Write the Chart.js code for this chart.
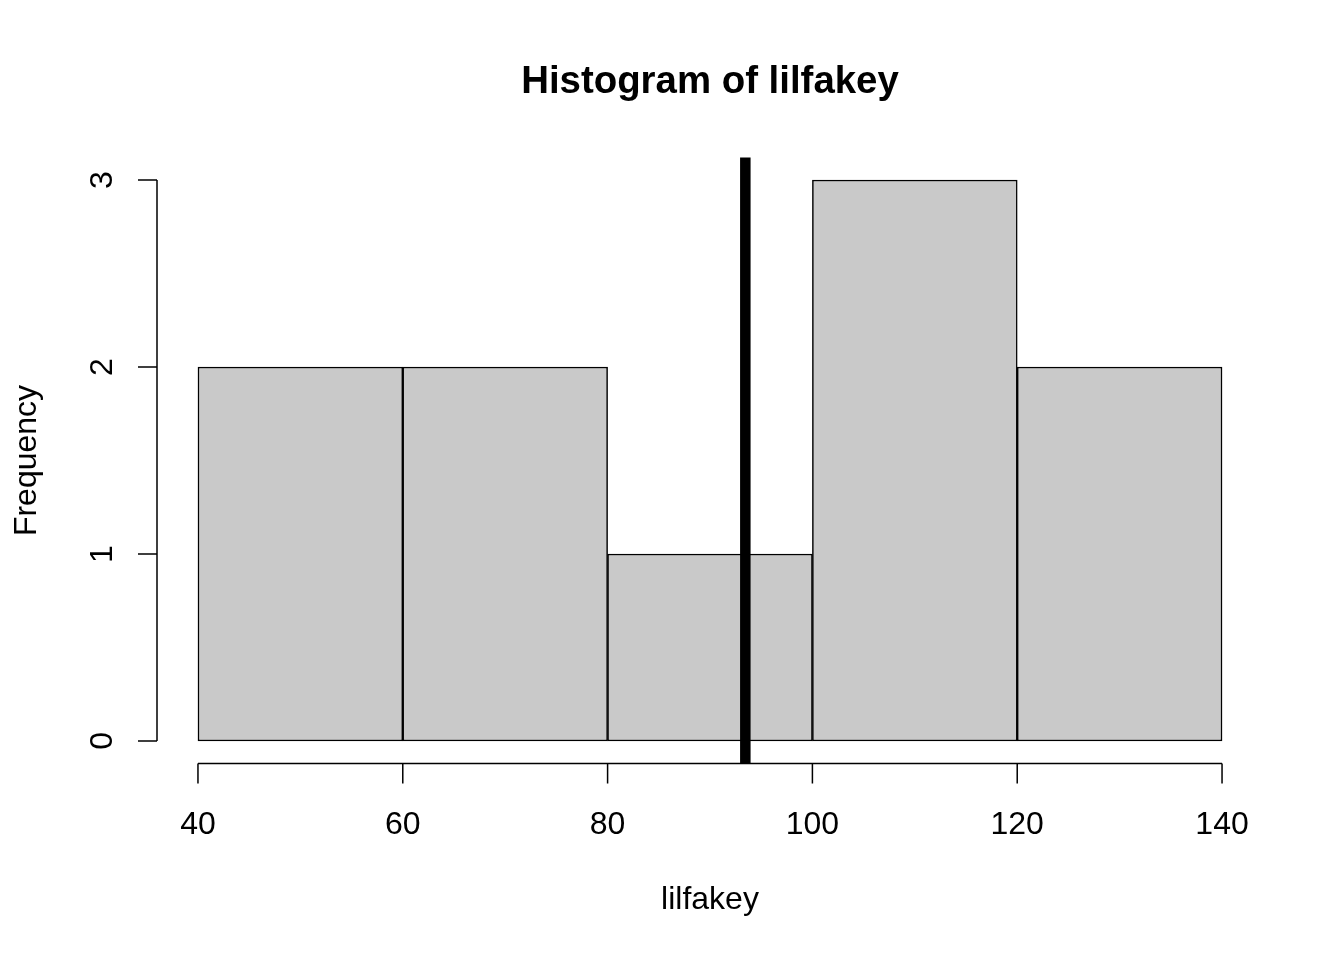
<!DOCTYPE html>
<html>
<head>
<meta charset="utf-8">
<script src="https://cdn.jsdelivr.net/npm/chart.js@4/dist/chart.umd.min.js"></script>
<style>
  html, body { margin: 0; padding: 0; background: #ffffff; }
  #wrap { width: 1344px; height: 960px; position: relative; }
</style>
</head>
<body>
<div id="wrap"><canvas id="c" width="1344" height="960"></canvas></div>
<script>
// ---- data ----
const binCenters = [50, 70, 90, 110, 130];
const binCounts = [2, 2, 1, 3, 2];
const xTicks = [40, 60, 80, 100, 120, 140];
const yTicks = [0, 1, 2, 3];
const meanValue = [93.45];
const titleText = "Histogram of lilfakey";
const xLabelText = "lilfakey";
const yLabelText = "Frequency";

const FONT = "'Liberation Sans', Arial, Helvetica, sans-serif";

const axesPlugin = {
  id: 'rAxes',
  afterDraw(chart) {
    const ctx = chart.ctx;
    const xs = chart.scales.x, ys = chart.scales.y;
    const area = chart.chartArea;
    ctx.save();
    ctx.strokeStyle = '#000';
    ctx.fillStyle = '#000';
    ctx.lineWidth = 1.5;
    // y axis
    const yx = area.left;
    ctx.beginPath();
    ctx.moveTo(yx, ys.getPixelForValue(yTicks[0]));
    ctx.lineTo(yx, ys.getPixelForValue(yTicks[yTicks.length - 1]));
    yTicks.forEach(v => {
      const py = ys.getPixelForValue(v);
      ctx.moveTo(yx, py);
      ctx.lineTo(yx - 19, py);
    });
    ctx.stroke();
    // x axis
    const xy = area.bottom;
    ctx.beginPath();
    ctx.moveTo(xs.getPixelForValue(xTicks[0]), xy);
    ctx.lineTo(xs.getPixelForValue(xTicks[xTicks.length - 1]), xy);
    xTicks.forEach(v => {
      const px = xs.getPixelForValue(v);
      ctx.moveTo(px, xy);
      ctx.lineTo(px, xy + 20);
    });
    ctx.stroke();
    // tick labels
    ctx.font = '32px ' + FONT;
    ctx.textAlign = 'center';
    ctx.textBaseline = 'alphabetic';
    xTicks.forEach(v => {
      ctx.fillText(String(v), xs.getPixelForValue(v), 834);
    });
    yTicks.forEach(v => {
      ctx.save();
      ctx.translate(112, ys.getPixelForValue(v));
      ctx.rotate(-Math.PI / 2);
      ctx.fillText(String(v), 0, 0);
      ctx.restore();
    });
    // axis titles
    const cx = (area.left + area.right) / 2;
    const cy = (area.top + area.bottom) / 2;
    ctx.fillText(xLabelText, cx, 909);
    ctx.save();
    ctx.translate(36, cy);
    ctx.rotate(-Math.PI / 2);
    ctx.fillText(yLabelText, 0, 0);
    ctx.restore();
    // main title
    ctx.font = 'bold 38.4px ' + FONT;
    ctx.fillText(titleText, cx, 93);
    ctx.restore();
  }
};

new Chart(document.getElementById('c'), {
  type: 'bar',
  data: {
    datasets: [
      {
        type: 'line',
        data: [{ x: meanValue[0], y: -0.12 }, { x: meanValue[0], y: 3.12 }],
        borderColor: '#000000',
        borderWidth: 10.5,
        pointRadius: 0,
        fill: false,
        clip: false,
        order: 0
      },
      {
        type: 'bar',
        data: binCenters.map((c, i) => ({ x: c, y: binCounts[i] })),
        backgroundColor: '#c9c9c9',
        borderColor: '#000000',
        borderWidth: 1.5,
        borderSkipped: false,
        barPercentage: 1,
        categoryPercentage: 1,
        order: 1
      }
    ]
  },
  options: {
    responsive: false,
    animation: false,
    devicePixelRatio: 1,
    layout: { padding: { left: 157, right: 81, top: 157.6, bottom: 196.6 } },
    plugins: { legend: { display: false }, title: { display: false }, tooltip: { enabled: false } },
    scales: {
      x: {
        type: 'linear', min: 36, max: 144, offset: false, display: false,
        afterBuildTicks: s => { s.ticks = xTicks.map(v => ({ value: v })); }
      },
      y: {
        type: 'linear', min: -0.12, max: 3.12, display: false,
        afterBuildTicks: s => { s.ticks = yTicks.map(v => ({ value: v })); }
      }
    }
  },
  plugins: [axesPlugin]
});
</script>
</body>
</html>
